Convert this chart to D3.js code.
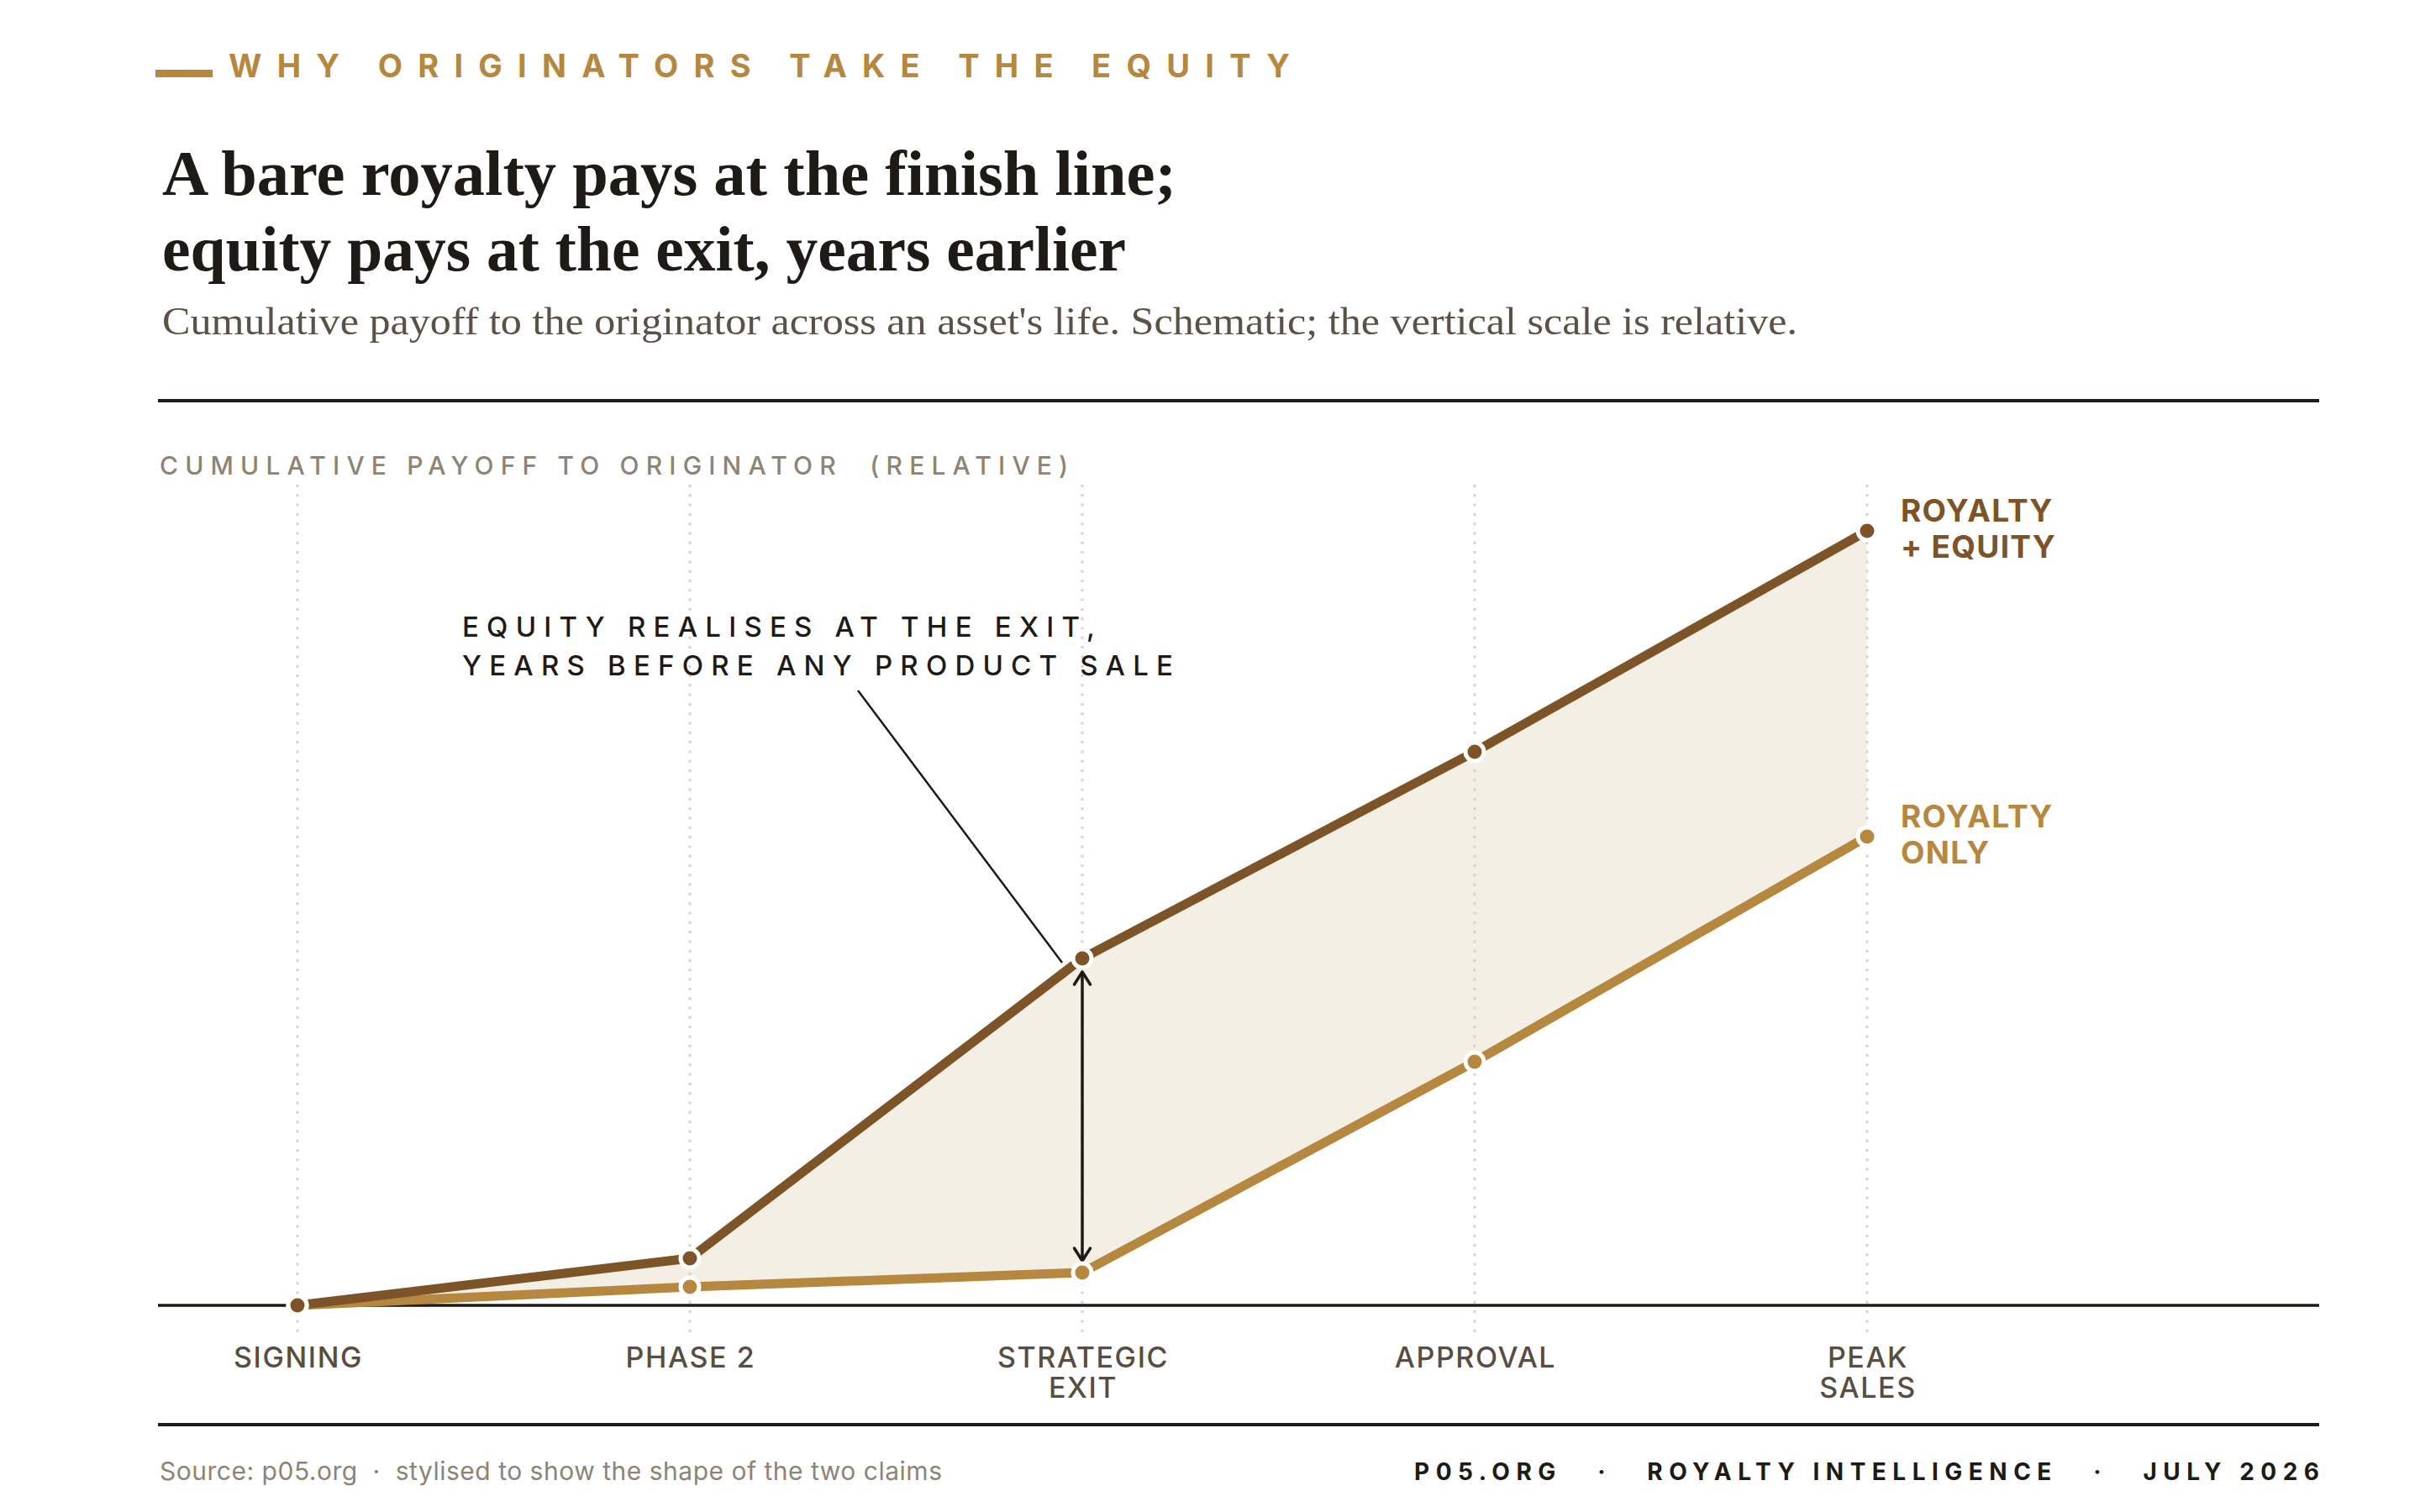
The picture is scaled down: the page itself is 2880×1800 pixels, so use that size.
<!DOCTYPE html>
<html>
<head>
<meta charset="utf-8">
<script src="https://cdn.jsdelivr.net/npm/d3@7"></script>
<style>
  html, body { margin: 0; padding: 0; background: #ffffff; }
  svg { display: block; }
</style>
</head>
<body>
<div id="chart"></div>
<script>
// ---------------- data ----------------
const stages = ["SIGNING", "PHASE 2", "STRATEGIC EXIT", "APPROVAL", "PEAK SALES"];
const stageLabelLines = [["SIGNING"], ["PHASE 2"], ["STRATEGIC", "EXIT"], ["APPROVAL"], ["PEAK", "SALES"]];
const royaltyPlusEquity = [0, 5.6, 41.3, 65.9, 92.2];
const royaltyOnly = [0, 2.2, 3.9, 29.0, 55.8];
const seriesNames = [["ROYALTY", "+ EQUITY"], ["ROYALTY", "ONLY"]];
const kicker = "WHY ORIGINATORS TAKE THE EQUITY";
const titleLines = ["A bare royalty pays at the finish line;", "equity pays at the exit, years earlier"];
const subtitle = "Cumulative payoff to the originator across an asset's life. Schematic; the vertical scale is relative.";
const yAxisTitle = "CUMULATIVE PAYOFF TO ORIGINATOR\u00a0\u00a0(RELATIVE)";
const annotationLines = ["EQUITY REALISES AT THE EXIT,", "YEARS BEFORE ANY PRODUCT SALE"];
const sourceNote = "Source: p05.org\u00a0\u00a0·\u00a0\u00a0stylised to show the shape of the two claims";
const footerRight = "P05.ORG\u00a0\u00a0\u00a0·\u00a0\u00a0\u00a0ROYALTY INTELLIGENCE\u00a0\u00a0\u00a0·\u00a0\u00a0\u00a0JULY 2026";

// ---------------- style ----------------
const W = 2880, H = 1800;
const C = {
  dark: "#7d5328", gold: "#b5873f", fill: "#f3efe5", ink: "#1e1a15",
  tick: "#574d41", muted: "#8c8475", grid: "#d9d2c6", sub: "#5b5145"
};
const SANS = "Inter, 'Liberation Sans', Arial, sans-serif";
const SERIF = "'Liberation Serif', 'DejaVu Serif', serif";
const left = 188, right = 2760;

function draw() {
  const svg = d3.select("#chart").append("svg").attr("width", W).attr("height", H)
    .attr("viewBox", `0 0 ${W} ${H}`);
  svg.append("rect").attr("width", W).attr("height", H).attr("fill", "#fff");

  function fitSpacing(sel, target) {
    sel.style("letter-spacing", "0px");
    const n = sel.text().length;
    const w = sel.node().getComputedTextLength();
    sel.style("letter-spacing", ((target - w) / (n - 1)) + "px");
  }

  // kicker
  svg.append("rect").attr("x", 185).attr("y", 83).attr("width", 68).attr("height", 9).attr("fill", C.gold);
  const k = svg.append("text").attr("x", 272).attr("y", 92).text(kicker)
    .attr("font-family", SANS).attr("font-weight", 700).attr("font-size", 38).attr("fill", C.gold);
  fitSpacing(k, 1263);

  // title
  const tw = [1207, 1147];
  titleLines.forEach((t, i) => {
    svg.append("text").attr("x", 193).attr("y", 232 + i * 90).text(t)
      .attr("font-family", SERIF).attr("font-weight", 700).attr("font-size", 76).attr("fill", C.ink)
      .attr("textLength", tw[i]).attr("lengthAdjust", "spacingAndGlyphs");
  });
  svg.append("text").attr("x", 193).attr("y", 398).text(subtitle)
    .attr("font-family", SERIF).attr("font-size", 46).attr("fill", C.sub)
    .attr("textLength", 1946).attr("lengthAdjust", "spacingAndGlyphs");

  // rules
  svg.append("rect").attr("x", left).attr("y", 475).attr("width", right - left).attr("height", 4).attr("fill", C.ink);
  svg.append("rect").attr("x", left).attr("y", 1694).attr("width", right - left).attr("height", 4).attr("fill", C.ink);

  // y axis title
  const yt = svg.append("text").attr("x", 190).attr("y", 565).text(yAxisTitle)
    .attr("font-family", SANS).attr("font-weight", 500).attr("font-size", 30).attr("fill", C.muted)
    .style("white-space", "pre");
  fitSpacing(yt, 1081);

  // scales
  const x = d3.scalePoint().domain(stages).range([354, 2222]);
  const y = d3.scaleLinear().domain([0, 100]).range([1554, 554]);

  const rows = stages.map((s, i) => ({ s, hi: royaltyPlusEquity[i], lo: royaltyOnly[i] }));

  // fill between
  svg.append("path").datum(rows)
    .attr("d", d3.area().x(d => x(d.s)).y0(d => y(d.lo)).y1(d => y(d.hi)))
    .attr("fill", C.fill);

  // gridlines
  svg.append("g").selectAll("line").data(stages).join("line")
    .attr("x1", d => x(d)).attr("x2", d => x(d)).attr("y1", 577).attr("y2", 1588)
    .attr("stroke", C.grid).attr("stroke-width", 3).attr("stroke-dasharray", "3 8.3");

  // baseline axis
  svg.append("line").attr("x1", left).attr("x2", right).attr("y1", y(0)).attr("y2", y(0))
    .attr("stroke", C.ink).attr("stroke-width", 3.5);

  // tick labels
  const ticks = svg.append("g");
  stages.forEach((s, i) => {
    stageLabelLines[i].forEach((ln, j) => {
      ticks.append("text").attr("x", x(s) + 1).attr("y", 1628 + j * 36).text(ln)
        .attr("text-anchor", "middle").attr("font-family", SANS).attr("font-weight", 500).attr("font-size", 34)
        .attr("letter-spacing", "1.6px").attr("fill", C.tick);
    });
  });

  // lines
  const lineGen = key => d3.line().x(d => x(d.s)).y(d => y(d[key]));
  svg.append("path").datum(rows).attr("d", lineGen("lo")).attr("fill", "none")
    .attr("stroke", C.gold).attr("stroke-width", 11).attr("stroke-linejoin", "round");
  svg.append("path").datum(rows).attr("d", lineGen("hi")).attr("fill", "none")
    .attr("stroke", C.dark).attr("stroke-width", 11).attr("stroke-linejoin", "round");

  // double arrow at strategic exit
  const ex = x("STRATEGIC EXIT");
  const exitHi = y(royaltyPlusEquity[2]), exitLo = y(royaltyOnly[2]);
  const defs = svg.append("defs");
  defs.append("marker").attr("id", "chev").attr("viewBox", "-20 -14 24 28")
    .attr("markerWidth", 24).attr("markerHeight", 28).attr("markerUnits", "userSpaceOnUse")
    .attr("refX", 0).attr("refY", 0).attr("orient", "auto-start-reverse")
    .append("path").attr("d", "M-15,-9.5 L0,0 L-15,9.5").attr("fill", "none")
    .attr("stroke", C.ink).attr("stroke-width", 3.5).attr("stroke-linecap", "round").attr("stroke-linejoin", "round");
  svg.append("line").attr("x1", ex).attr("x2", ex).attr("y1", exitHi + 16).attr("y2", exitLo - 14)
    .attr("stroke", C.ink).attr("stroke-width", 3.5)
    .attr("marker-start", "url(#chev)").attr("marker-end", "url(#chev)");

  // leader line
  svg.append("line").attr("x1", ex - 267).attr("y1", exitHi - 319).attr("x2", ex - 24).attr("y2", exitHi + 5)
    .attr("stroke", C.ink).attr("stroke-width", 2.5);

  // annotation text
  const a2 = svg.append("text").attr("x", 550).attr("y", 804).text(annotationLines[1])
    .attr("font-family", SANS).attr("font-weight", 500).attr("font-size", 33).attr("fill", C.ink);
  fitSpacing(a2, 846);
  const ls = a2.style("letter-spacing");
  svg.append("text").attr("x", 550).attr("y", 758).text(annotationLines[0])
    .attr("font-family", SANS).attr("font-weight", 500).attr("font-size", 33).attr("fill", C.ink)
    .style("letter-spacing", ls);

  // points
  const pts = svg.append("g");
  pts.selectAll("circle.lo").data(rows).join("circle").attr("class", "lo")
    .attr("cx", d => x(d.s)).attr("cy", d => y(d.lo)).attr("r", 11)
    .attr("fill", C.gold).attr("stroke", "#fff").attr("stroke-width", 5);
  pts.selectAll("circle.hi").data(rows).join("circle").attr("class", "hi")
    .attr("cx", d => x(d.s)).attr("cy", d => y(d.hi)).attr("r", 11)
    .attr("fill", C.dark).attr("stroke", "#fff").attr("stroke-width", 5);

  // series labels
  const last = rows[rows.length - 1];
  const lx = x(last.s) + 40;
  [[y(last.hi), C.dark, seriesNames[0]], [y(last.lo), C.gold, seriesNames[1]]].forEach(([py, col, names]) => {
    names.forEach((n, j) => {
      svg.append("text").attr("x", lx).attr("y", py - 11 + j * 43).text(n)
        .attr("font-family", SANS).attr("font-weight", 700).attr("font-size", 37)
        .attr("letter-spacing", "1.3px").attr("fill", col);
    });
  });

  // footer
  const src = svg.append("text").attr("x", 190).attr("y", 1762).text(sourceNote)
    .attr("font-family", SANS).attr("font-size", 30).attr("fill", C.muted);
  fitSpacing(src, 931);
  const fr = svg.append("text").attr("x", 1683).attr("y", 1762).text(footerRight)
    .attr("font-family", SANS).attr("font-weight", 700).attr("font-size", 28).attr("fill", C.ink);
  fitSpacing(fr, right - 1683);
}

if (document.fonts && document.fonts.ready) document.fonts.ready.then(draw); else draw();
</script>
</body>
</html>
